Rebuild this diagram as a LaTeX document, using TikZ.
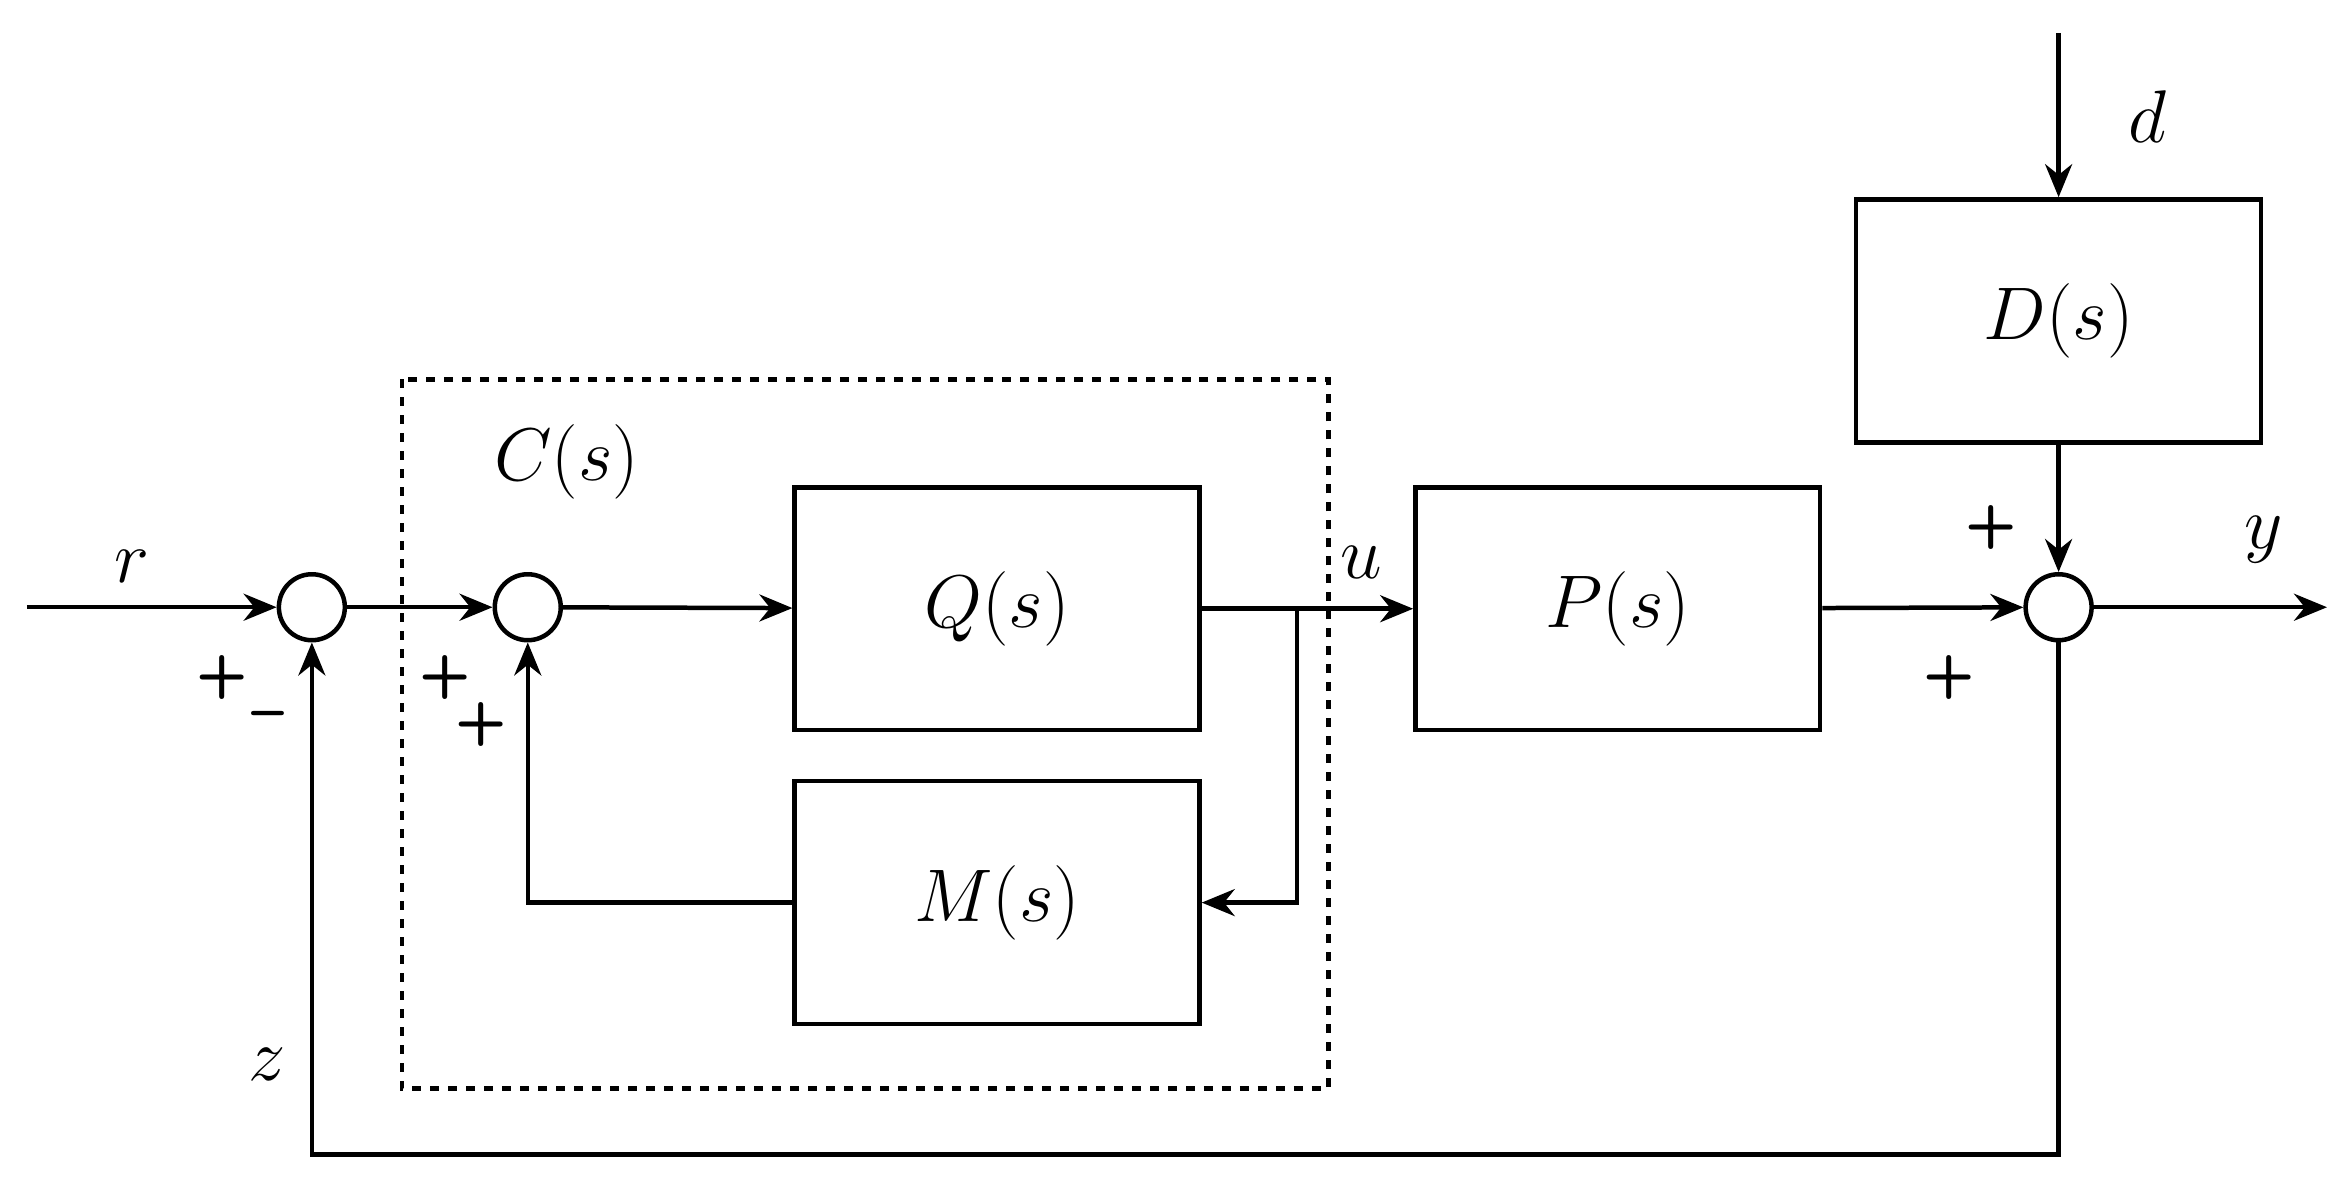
\documentclass[tikz,border=0pt]{standalone}
\usetikzlibrary{arrows.meta}
\begin{document}
\begin{tikzpicture}[x=0.5pt,y=-0.5pt,line width=1.5pt,
 blk/.style={draw,minimum width=135pt,minimum height=81pt,inner sep=0pt,font=\fontsize{30}{36}\selectfont},
 sum/.style={draw,circle,minimum size=22pt,inner sep=0pt},
 ar/.style={-{Stealth[length=11pt,width=9pt]}},
 lb/.style={font=\fontsize{24}{28}\selectfont},
 pm/.style={font=\fontsize{20}{24}\selectfont\sffamily\bfseries}]
\useasboundingbox (0,0) rectangle (1560,786);
\node[sum] (s1) at (208,405) {};
\node[sum] (s2) at (352,405) {};
\node[sum] (s3) at (1373,405) {};
\node[blk] (Q) at (665,406) {$Q(s)$};
\node[blk] (M) at (665,602) {$M(s)$};
\node[blk] (P) at (1079,406) {$P(s)$};
\node[blk] (D) at (1373,214) {$D(s)$};
\draw[dashed] (268,253) rectangle (886,726);
\coordinate (rin) at (18,405);
\coordinate (br) at (865,405);
\coordinate (dtop) at (1373,22);
\coordinate (yout) at (1552,405);
\coordinate (fb) at (1373,770);
\draw[ar] (rin) -- (s1);
\draw[ar] (s1) -- (s2);
\draw[ar] (s2) -- (Q);
\draw[ar] (Q) -- (P);
\draw[ar] (br) |- (M.east);
\draw[ar] (M.west) -| (s2.south);
\draw[ar] (P) -- (s3);
\draw[ar] (dtop) -- (D);
\draw[ar] (D) -- (s3);
\draw[ar] (s3) -- (yout);
\draw[ar] (s3.south) -- (fb) -| (s1.south);
\node[lb] (lr) at (88,378) {$r$};
\node[lb] (lu) at (908,375) {$u$};
\node[lb] (ly) at (1510,360) {$y$};
\node[lb] (ld) at (1432,78) {$d$};
\node[lb] (lz) at (178,710) {$z$};
\node[lb] (lc) at (378,308) {$C(s)$};
\node[pm] at (148,452) {+};
\node[pm] at (179,481) {--};
\node[pm] at (297,452) {+};
\node[pm] at (321,483) {+};
\node[pm] at (1328,352) {+};
\node[pm] at (1300,452) {+};
\end{tikzpicture}
\end{document}
